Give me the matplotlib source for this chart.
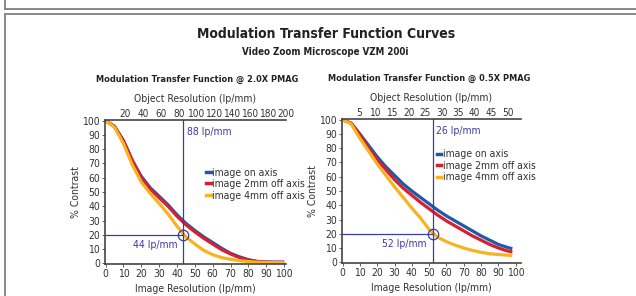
import numpy as np
import matplotlib
matplotlib.use("Agg")
import matplotlib.pyplot as plt
from matplotlib.lines import Line2D

plt.rcParams['font.family'] = ['DejaVu Sans']
plt.rcParams['font.stretch'] = 'condensed'

# image resolution (lp/mm) sampled every 5
x_img = [0, 5, 10, 15, 20, 25, 30, 35, 40, 45, 50, 55, 60, 65, 70, 75, 80, 85, 90, 95, 100]

# 2.0X PMAG
left_on_axis = [100, 96, 86, 72, 61, 53, 47, 41, 34, 28, 23, 18.5, 14.5, 10.5, 7, 4.5, 2.5, 1.3, 0.9, 0.8, 0.8]
left_2mm = [100, 96, 86, 72, 60, 52, 46, 40, 33, 27, 22, 17.5, 13.5, 9.5, 6.5, 4, 2.2, 1.2, 0.8, 0.7, 0.7]
left_4mm = [100, 95.5, 84, 69, 57, 49, 42, 34.5, 26, 18.5, 13.5, 9, 6, 4, 2.8, 1.8, 1.2, 0.8, 0.6, 0.5, 0.5]

# 0.5X PMAG (curves stop at 98)
x_img_r = [0, 5, 10, 15, 20, 25, 30, 35, 40, 45, 50, 55, 60, 65, 70, 75, 80, 85, 90, 95, 98]
right_on_axis = [100, 97.5, 90, 82, 74, 67, 61, 55, 50, 45.5, 41, 36.5, 32.5, 29, 25.5, 22, 18.5, 15.5, 12.5, 10.5, 9.5]
right_2mm = [100, 97.5, 89.5, 80, 72, 65, 58, 52, 47, 42, 37.5, 33, 29, 25.5, 22, 18.5, 15.5, 12.5, 10, 8, 7.3]
right_4mm = [100, 97, 87, 78, 69, 61, 53, 45.5, 38, 31, 23, 17.5, 14.5, 12, 10, 8.3, 7, 6, 5.5, 5, 4.8]

series_names = ["image on axis", "image 2mm off axis", "image 4mm off axis"]
colors = ["#1f5aa6", "#d42030", "#f7b320"]

bottom_ticks = list(range(0, 101, 10))
y_ticks = list(range(0, 101, 10))
left_obj_ticks = [20, 40, 60, 80, 100, 120, 140, 160, 180, 200]
right_obj_ticks = [5, 10, 15, 20, 25, 30, 35, 40, 45, 50]

# marked points: (image res, contrast, object label, image label)
left_mark = (43.5, 20, "88 lp/mm", "44 lp/mm")
right_mark = (52, 20, "26 lp/mm", "52 lp/mm")

mark_col = "#3a3aa8"
txt_col = "#333333"

fig = plt.figure(figsize=(6.36, 2.96), dpi=100)

# frame lines like the page boxes
W, H = 636.0, 296.0
fc = "#808080"
fig.add_artist(Line2D([5 / W, 1], [1 - 9 / H, 1 - 9 / H], color=fc, lw=1.3))
fig.add_artist(Line2D([5 / W, 5 / W], [1, 1 - 9 / H], color=fc, lw=1.3))
fig.add_artist(Line2D([5 / W, 1], [1 - 14 / H, 1 - 14 / H], color=fc, lw=1.3))
fig.add_artist(Line2D([5 / W, 5 / W], [0, 1 - 14 / H], color=fc, lw=1.3))

fig.text(0.512, 1 - 34 / H, "Modulation Transfer Function Curves", ha="center", va="center",
         fontsize=10, fontweight="bold", color="#222222")
fig.text(0.512, 1 - 52 / H, "Video Zoom Microscope VZM 200i", ha="center", va="center",
         fontsize=7, fontweight="bold", color="#222222")


def draw_panel(rect, xs, curves, xmax, obj_ticks, conv, mark, title, title_xy, leg_xy):
    ax = fig.add_axes(rect)
    for ys, c, n in zip(curves, colors, series_names):
        ax.plot(xs, ys, color=c, lw=2.3, label=n, solid_capstyle="butt", solid_joinstyle="round")
    mx, my, obj_lab, img_lab = mark
    ax.axvline(mx, color=mark_col, lw=0.9)
    ax.plot([0, mx], [my, my], color=mark_col, lw=0.9)
    ax.plot([mx], [my], marker="o", ms=7.5, mfc="none", mec=mark_col, mew=0.9)
    ax.text(mx + 2, 92, obj_lab, color=mark_col, fontsize=7.5, va="center", ha="left")
    ax.text(mx - 3.5, 13, img_lab, color=mark_col, fontsize=7.5, va="center", ha="right")

    ax.set_xlim(-0.3, xmax)
    ax.set_ylim(-0.5, 100.5)
    ax.set_xticks(bottom_ticks)
    ax.set_yticks(y_ticks)
    ax.tick_params(length=2, width=0.6, labelsize=7.5, labelcolor=txt_col, pad=1.5, color="#444444")
    for s in ["left", "bottom", "top"]:
        ax.spines[s].set_color("#444444")
        ax.spines[s].set_linewidth(1.2)
    ax.spines["right"].set_visible(False)
    ax.set_xlabel("Image Resolution (lp/mm)", fontsize=7.5, color=txt_col, labelpad=4)
    ax.set_ylabel("% Contrast", fontsize=7.5, color=txt_col, labelpad=1)

    sec = ax.secondary_xaxis("top", functions=conv)
    sec.set_xticks(obj_ticks)
    sec.tick_params(length=0, labelsize=7.2, labelcolor=txt_col, pad=0.5)
    sec.spines["top"].set_visible(False)
    sec.set_xlabel("Object Resolution (lp/mm)", fontsize=7.5, color=txt_col, labelpad=5)

    fig.text(title_xy[0] / W, 1 - title_xy[1] / H, title, ha="center", va="center",
             fontsize=6.6, fontweight="bold", color="#222222")

    handles = [Line2D([], [], color=c, lw=2.5) for c in colors]
    ax.legend(handles, series_names, loc="upper left", bbox_to_anchor=leg_xy, frameon=False,
              fontsize=7.5, handlelength=0.4, handletextpad=0.15, labelspacing=0.15,
              borderpad=0, borderaxespad=0, labelcolor=txt_col)
    return ax


# top scales (object -> image position)
draw_panel([105 / W, 32 / H, 181 / W, 144 / H], x_img, [left_on_axis, left_2mm, left_4mm], 101,
           left_obj_ticks, (lambda v: 2 * (v - 1), lambda o: o / 2 + 1), left_mark,
           "Modulation Transfer Function @ 2.0X PMAG", (197, 79), (0.56, 0.67))
draw_panel([342 / W, 33 / H, 179 / W, 144 / H], x_img_r, [right_on_axis, right_2mm, right_4mm], 103,
           right_obj_ticks, (lambda v: (v - 0.3) / 1.9, lambda o: 1.9 * o + 0.3), right_mark,
           "Modulation Transfer Function @ 0.5X PMAG", (429, 78), (0.53, 0.79))

fig.savefig("out.png", dpi=100)
